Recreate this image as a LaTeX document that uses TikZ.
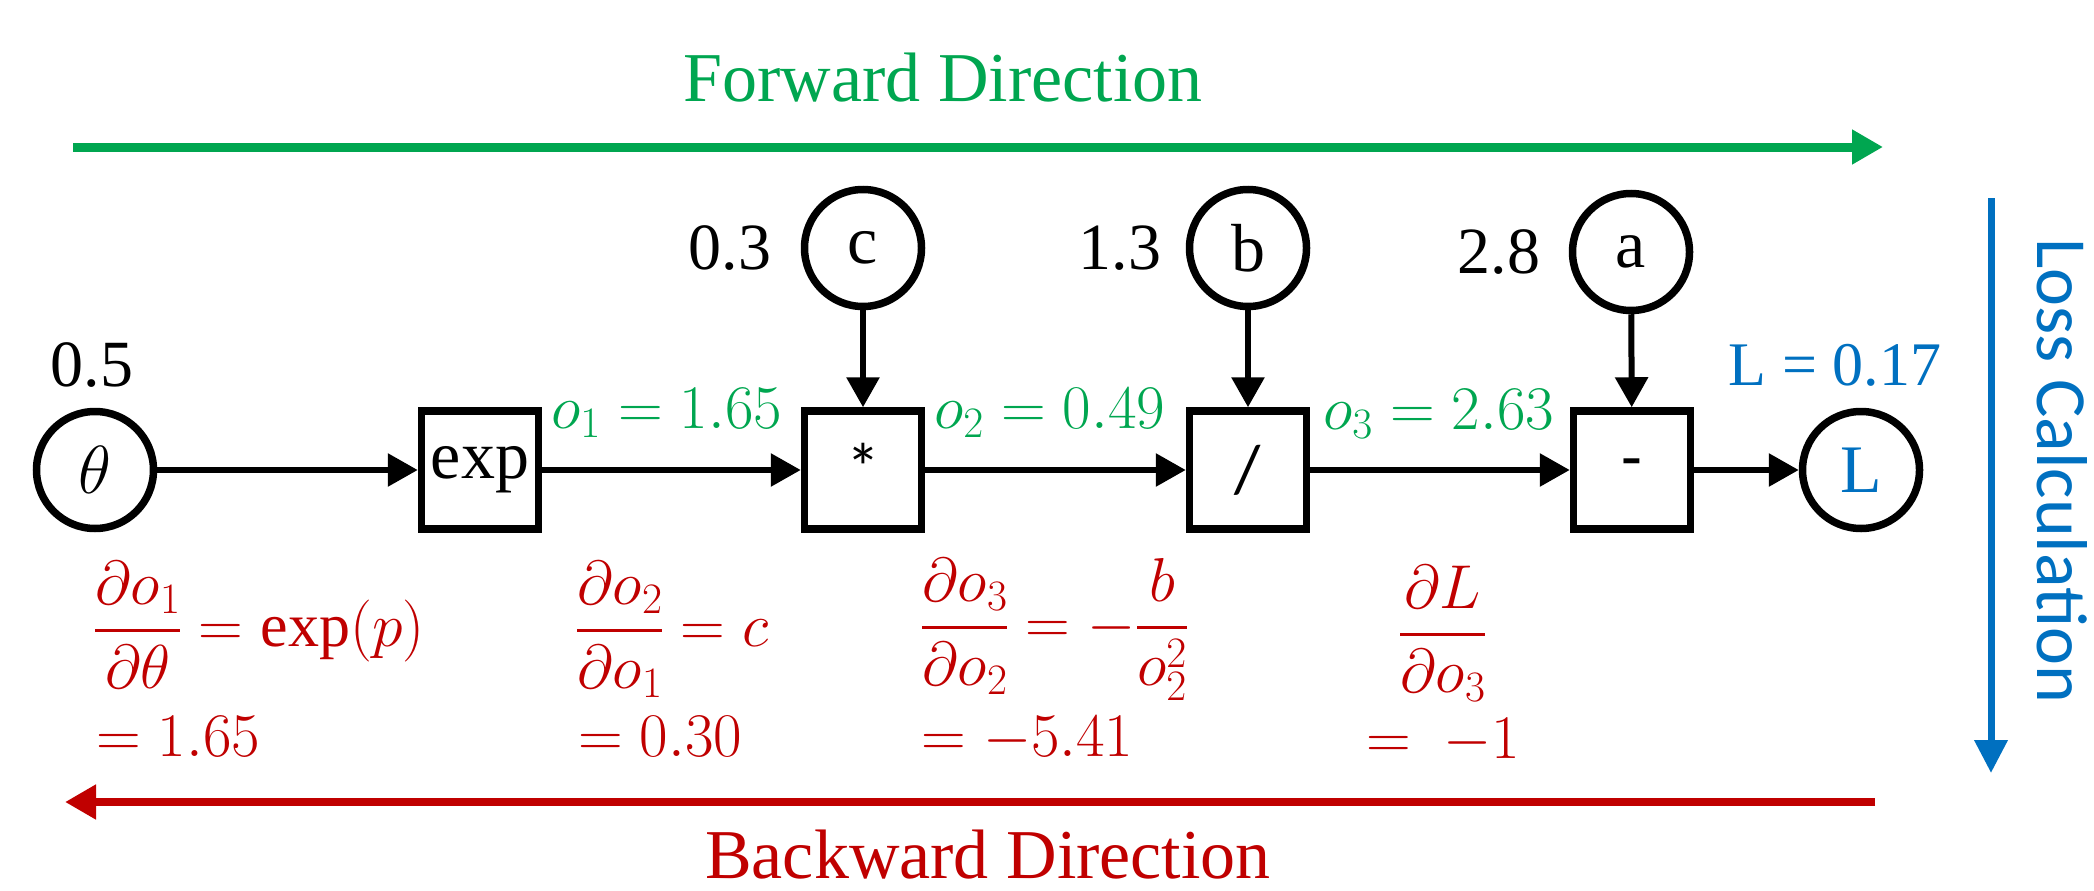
\RequirePackage{fix-cm}
\documentclass[tikz,border=0pt]{standalone}
\usepackage{fontspec}
\setmainfont{Liberation Serif}
\newfontfamily\calib{Carlito}
\usetikzlibrary{arrows.meta}
\definecolor{fgreen}{HTML}{00A650}
\definecolor{bred}{HTML}{C00000}
\definecolor{lblue}{HTML}{0070C0}
\newcommand{\thkfrac}[2]{{{#1}\above 3.5pt{#2}}}
\tikzset{
  circ/.style={circle, draw, line width=7.5pt, minimum size=117pt, inner sep=0pt, font=\fontsize{68}{80}\selectfont},
  opbox/.style={rectangle, draw, line width=7.5pt, minimum width=117pt, minimum height=118pt, inner sep=0pt, font=\fontsize{68}{80}\selectfont},
  conn/.style={line width=6pt, -{Triangle[length=30pt,width=32pt]}},
  val/.style={font=\fontsize{66}{79}\selectfont, inner sep=0pt},
  grn/.style={text=fgreen, font=\fontsize{62}{74}\selectfont, inner sep=0pt, anchor=base west},
  redm/.style={text=bred, font=\fontsize{62}{74}\selectfont, inner sep=0pt, anchor=base west},
  bigarrow/.style={line width=#1, -{Triangle[length=31pt,width=33pt]}},
  title/.style={font=\fontsize{70}{84}\selectfont, inner sep=0pt, anchor=base},
}
\begin{document}
\begin{tikzpicture}[x=1pt,y=-1pt]
\useasboundingbox (0,0) rectangle (2094,891);

% forward direction
\node[title, text=fgreen] (fwdt) at (943,101) {Forward Direction};
\coordinate (fs) at (73,147);
\coordinate (fe) at (1883,147);
\draw[bigarrow=9pt, fgreen] (fs) -- (fe);

% main row
\node[circ] (theta) at (95,470) {$\theta$};
\node[opbox] (exp) at (480,470) {exp};
\node[opbox, font=\calib\fontsize{68}{80}\selectfont] (mul) at (863,470) {\raisebox{6pt}{*}};
\node[opbox, font=\calib\fontsize{68}{80}\selectfont] (div) at (1248,470) {/};
\node[opbox, font=\calib\fontsize{68}{80}\selectfont] (sub) at (1632,470) {-};
\node[circ, text=lblue] (L) at (1861,470) {L};

% top inputs
\node[circ] (c) at (863,248) {c};
\node[circ] (b) at (1248,248) {b};
\node[circ] (a) at (1631,252) {a};

% values
\node[val] (v05) at (92,365) {0.5};
\node[val] (v03) at (730,248) {0.3};
\node[val] (v13) at (1120,248) {1.3};
\node[val] (v28) at (1499,252) {2.8};
\node[val, text=lblue, font=\fontsize{62}{74}\selectfont] (lval) at (1835,365) {L = 0.17};

% connectors
\draw[conn] (theta) -- (exp);
\draw[conn] (exp) -- (mul);
\draw[conn] (mul) -- (div);
\draw[conn] (div) -- (sub);
\draw[conn] (sub) -- (L);
\draw[conn] (c) -- (mul);
\draw[conn] (b) -- (div);
\draw[conn] (a) -- (sub);

% forward values
\node[grn] (o1) at (551,428) {$o_1 = 1.65$};
\node[grn] (o2) at (934,428) {$o_2 = 0.49$};
\node[grn] (o3) at (1323,429) {$o_3 = 2.63$};

% gradients
\node[redm] (g1) at (94,646) {$\displaystyle\thkfrac{\partial o_1}{\partial \theta} = \exp(p)$};
\node[redm] (g2) at (576,646) {$\displaystyle\thkfrac{\partial o_2}{\partial o_1} = c$};
\node[redm] (g3) at (921,643) {$\displaystyle\thkfrac{\partial o_3}{\partial o_2} = -\thkfrac{b}{o_2^2}$};
\node[redm] (g4) at (1399,650) {$\displaystyle\thkfrac{\partial L}{\partial o_3}$};
\node[redm] (r1) at (96,756) {$= 1.65$};
\node[redm] (r2) at (578,756) {$= 0.30$};
\node[redm] (r3) at (921,756) {$= -5.41$};
\node[redm] (r4) at (1366,758) {$=\ -1$};

% loss calculation
\coordinate (ls) at (1991,198);
\coordinate (le) at (1991,773);
\draw[line width=7pt, lblue, -{Triangle[length=33pt,width=32pt]}] (ls) -- (le);
\node[text=lblue, font=\calib\fontsize{72}{86}\selectfont, rotate=-90, inner sep=0pt] (losst) at (2062,471) {Loss Calculation};

% backward
\coordinate (bs) at (1875,802);
\coordinate (be) at (65,802);
\draw[bigarrow=8pt, bred] (bs) -- (be);
\node[title, text=bred] (bwdt) at (988,878) {Backward Direction};
\end{tikzpicture}
\end{document}
